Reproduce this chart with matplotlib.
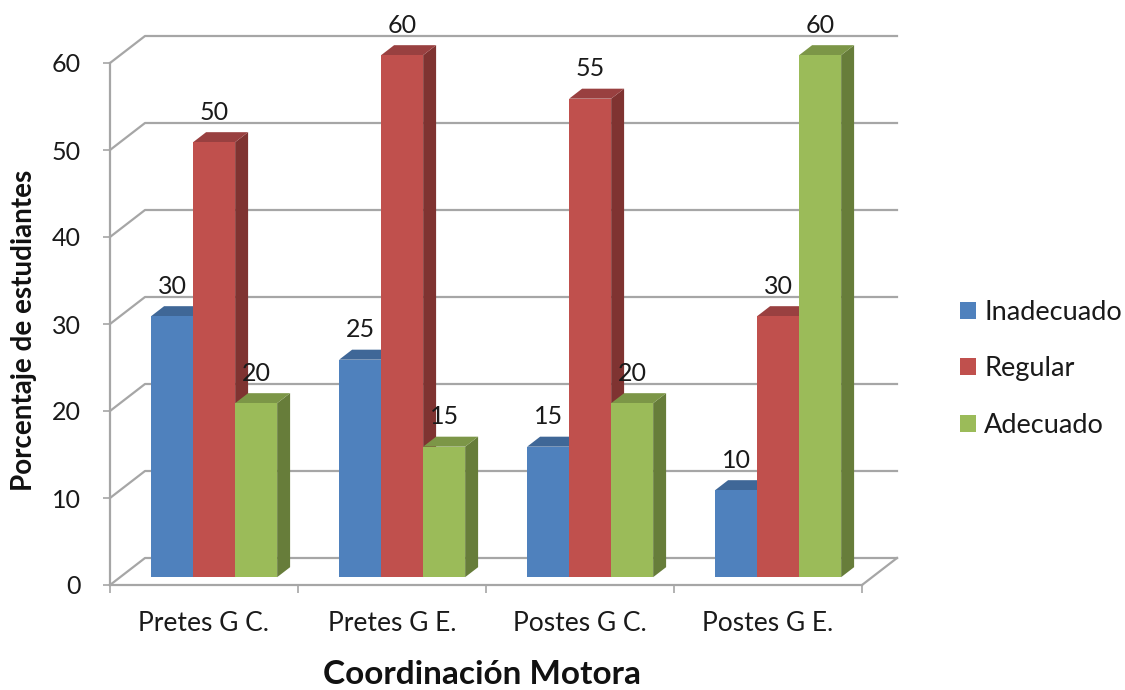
# Grafico de barras "3D" - Coordinacion Motora
import matplotlib.pyplot as plt
from matplotlib.patches import Patch

plt.rcParams['font.family'] = ['Lato', 'DejaVu Sans']

# Datos
grupos = ['Pretes G C.', 'Pretes G E.', 'Postes G C.', 'Postes G E.']
series = ['Inadecuado', 'Regular', 'Adecuado']
inadecuado = [30, 25, 15, 10]
regular = [50, 60, 55, 30]
adecuado = [20, 15, 20, 60]
niveles = [0, 10, 20, 30, 40, 50, 60]

# Colores: frente, lado y tapa de cada serie
frente = ['#4F81BD', '#C0504D', '#9BBB59']
lado = ['#3A5F8C', '#7F3331', '#677D3A']
tapa = ['#3F6797', '#994040', '#7C9647']
gris = '#A6A6A6'
texto = '#1A1A1A'

W, H = 1125, 690
fig = plt.figure(figsize=(W / 100, H / 100), dpi=100)
x0, x1, y0, y1 = 110, 862, 585, 63
ax = fig.add_axes([x0 / W, 1 - y0 / H, (x1 - x0) / W, (y0 - y1) / H])
ax.set_xlim(0, 4)
ax.set_ylim(0, 60)

# Desplazamiento de profundidad en unidades de datos
DX = 35 / ((x1 - x0) / 4)
DY = 27 / ((y0 - y1) / 60)


def oblicuo(x, y, d):
    return x + d * DX, y + d * DY


# Paredes: lineas de la cuadricula
for n in niveles:
    xs = [0, oblicuo(0, n, 1)[0], oblicuo(4, n, 1)[0]]
    ys = [n, oblicuo(0, n, 1)[1], oblicuo(4, n, 1)[1]]
    ax.plot(xs, ys, color=gris, lw=1.6, clip_on=False, zorder=1)
# Borde derecho del piso
ax.plot([4, oblicuo(4, 0, 1)[0]], [0, oblicuo(4, 0, 1)[1]], color=gris, lw=1.6,
        clip_on=False, zorder=1)

# Barras
ancho = 42 / ((x1 - x0) / 4)
d0, d1 = 0.29, 0.66
valores = [inadecuado, regular, adecuado]
z = 2
for g in range(len(grupos)):
    for s in range(len(series)):
        v = valores[s][g]
        a = g + 0.5 + (s - 1.5) * ancho
        b = a + ancho
        esquinas_lado = [oblicuo(b, 0, d0), oblicuo(b, 0, d1), oblicuo(b, v, d1), oblicuo(b, v, d0)]
        esquinas_tapa = [oblicuo(a, v, d0), oblicuo(b, v, d0), oblicuo(b, v, d1), oblicuo(a, v, d1)]
        esquinas_frente = [oblicuo(a, 0, d0), oblicuo(b, 0, d0), oblicuo(b, v, d0), oblicuo(a, v, d0)]
        ax.fill(*zip(*esquinas_lado), color=lado[s], lw=0, clip_on=False, zorder=z)
        ax.fill(*zip(*esquinas_tapa), color=tapa[s], lw=0, clip_on=False, zorder=z)
        ax.fill(*zip(*esquinas_frente), color=frente[s], lw=0, clip_on=False, zorder=z)
        z += 1
        # Etiqueta de valor sobre la barra
        ax.annotate(str(v), oblicuo((a + b) / 2, v, d0), xytext=(0, 21.5), textcoords='offset points',
                    ha='center', va='center', fontsize=18, color=texto, zorder=50,
                    annotation_clip=False)

# Ejes
for lado_eje in ['top', 'right']:
    ax.spines[lado_eje].set_visible(False)
for lado_eje in ['left', 'bottom']:
    ax.spines[lado_eje].set_color(gris)
    ax.spines[lado_eje].set_linewidth(1.6)
    ax.spines[lado_eje].set_zorder(1)
ax.patch.set_visible(False)
ax.set_yticks(niveles)
ax.tick_params(axis='y', colors=gris, length=5, width=1.2, labelsize=18, labelcolor=texto, pad=16)
ax.set_xticks(range(5))
ax.set_xticklabels([])
ax.tick_params(axis='x', which='major', colors=gris, length=6, width=1.2)
ax.set_xticks([i + 0.5 for i in range(4)], minor=True)
ax.set_xticklabels(grupos, minor=True, fontsize=19, color=texto)
ax.tick_params(axis='x', which='minor', length=0, pad=19)

# Titulos de los ejes
fig.text(482 / W, 1 - 675 / H, 'Coordinación Motora', fontsize=24, fontweight='bold',
         ha='center', va='center', color='#111111')
fig.text(24 / W, 1 - 330 / H, 'Porcentaje de estudiantes', fontsize=20, fontweight='bold',
         rotation=90, ha='center', va='center', color='#111111')

# Leyenda
fs = 19.5
fs_px = fs * 100 / 72
marcas = [Patch(facecolor=frente[i], edgecolor='none', label=series[i]) for i in range(3)]
fig.legend(handles=marcas, loc='upper left', bbox_to_anchor=(960 / W, 1 - 300 / H), frameon=False,
           fontsize=fs, labelcolor=texto, borderpad=0, borderaxespad=0, handlelength=16 / fs_px,
           handleheight=16 / fs_px, handletextpad=8 / fs_px, labelspacing=1.16)

fig.savefig('out.png', dpi=100, facecolor='white')
